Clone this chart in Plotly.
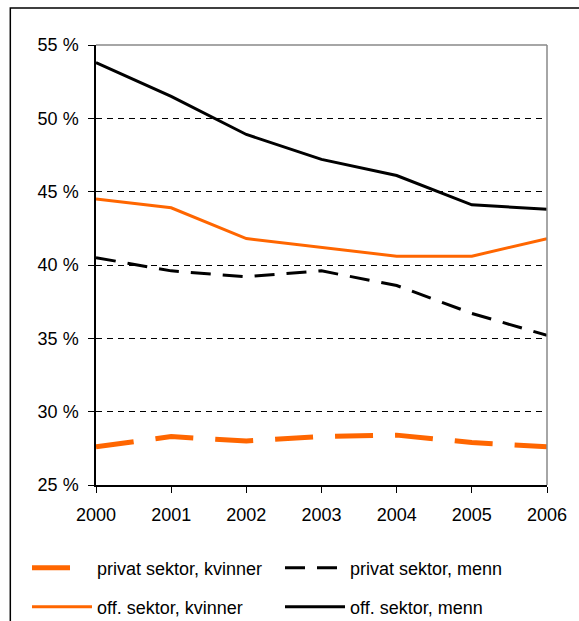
import plotly.graph_objects as go

years = [2000, 2001, 2002, 2003, 2004, 2005, 2006]

privat_kvinner = [27.6, 28.3, 28.0, 28.3, 28.4, 27.9, 27.6]
privat_menn = [40.5, 39.6, 39.2, 39.6, 38.6, 36.7, 35.2]
off_kvinner = [44.5, 43.9, 41.8, 41.2, 40.6, 40.6, 41.8]
off_menn = [53.8, 51.5, 48.9, 47.2, 46.1, 44.1, 43.8]

y_ticks = [25, 30, 35, 40, 45, 50, 55]
y_labels = [f"{v} %" for v in y_ticks]

ORANGE = "#FF6600"

fig = go.Figure()
# one legend per entry so the 2x2 legend grid can be placed like the original
fig.add_trace(go.Scatter(x=years, y=privat_kvinner, name="privat sektor, kvinner", mode="lines",
                         line=dict(color=ORANGE, width=5, dash="38px,22px"), legend="legend"))
fig.add_trace(go.Scatter(x=years, y=privat_menn, name="privat sektor, menn", mode="lines",
                         line=dict(color="black", width=3, dash="20px,12px"), legend="legend2"))
fig.add_trace(go.Scatter(x=years, y=off_kvinner, name="off. sektor, kvinner", mode="lines",
                         line=dict(color=ORANGE, width=3), legend="legend3"))
fig.add_trace(go.Scatter(x=years, y=off_menn, name="off. sektor, menn", mode="lines",
                         line=dict(color="black", width=3), legend="legend4"))

# grey border on top and right of plot area
fig.add_shape(type="line", xref="paper", yref="paper", x0=0, x1=1, y0=1, y1=1,
              line=dict(color="#888888", width=1.5))
fig.add_shape(type="line", xref="paper", yref="paper", x0=1, x1=1, y0=0, y1=1,
              line=dict(color="#888888", width=1.5))
# outer chart frame
fig.add_shape(type="rect", xref="paper", yref="paper", x0=-0.19, x1=1.3, y0=-0.6, y1=1.084,
              line=dict(color="black", width=1.5), layer="below")

leg = dict(orientation="h", xref="container", yref="container", xanchor="left",
           yanchor="middle", font=dict(size=18), itemwidth=60, bgcolor="rgba(0,0,0,0)")
col1, col2 = 27 / 579, 280 / 579
row1, row2 = 1 - 568 / 621, 1 - 607 / 621

fig.update_layout(
    width=579, height=621,
    margin=dict(l=96, r=25, t=45, b=136),
    paper_bgcolor="white", plot_bgcolor="white",
    font=dict(family="Liberation Sans, Arial, sans-serif", size=18, color="black"),
    showlegend=True,
    legend=dict(leg, x=col1, y=row1),
    legend2=dict(leg, x=col2, y=row1),
    legend3=dict(leg, x=col1, y=row2),
    legend4=dict(leg, x=col2, y=row2),
    xaxis=dict(range=[2000, 2006], tickvals=years, showgrid=False, showline=True,
               linecolor="black", linewidth=1.5, ticks="outside", ticklen=6,
               tickcolor="black", zeroline=False, fixedrange=True, ticklabelstandoff=7),
    yaxis=dict(range=[25, 55], tickvals=y_ticks, ticktext=y_labels, showgrid=True,
               gridcolor="black", griddash="6px,5px", gridwidth=1, showline=True,
               linecolor="black", linewidth=1.5, ticks="outside", ticklen=6,
               tickcolor="black", zeroline=False, fixedrange=True, ticklabelstandoff=6),
)

fig.write_html("out.html", config={"displayModeBar": False},
               post_script="document.body.style.margin='0';")
